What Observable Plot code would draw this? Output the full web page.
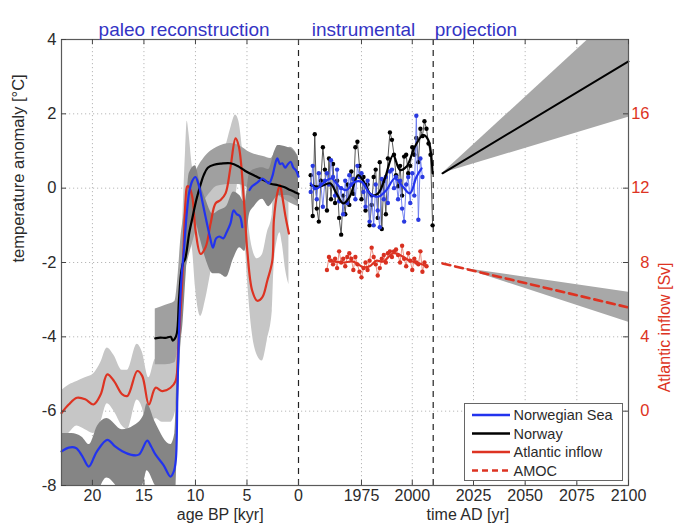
<!DOCTYPE html>
<html><head><meta charset="utf-8">
<script src="https://cdn.jsdelivr.net/npm/d3@7"></script>
<script src="https://cdn.jsdelivr.net/npm/@observablehq/plot@0.6"></script>
<style>
body{margin:0;background:#fff;font-family:"Liberation Sans",Arial,sans-serif}
#wrap{position:relative;width:674px;height:530px}
#legend{position:absolute;left:464px;top:403px}
</style>
</head><body><div id="wrap"></div>
<script>
// ---------- DATA ----------
// Paleo (age BP, kyr) — Norwegian Sea (blue)
const nsAge = [23,22.3,21.6,21.0,20.35,19.6,18.56,17.8,17.1,16.3,15.5,14.68,14.3,13.87,13.1,12.42,12.1,11.9,11.75,11.55,11.35,11.1,10.85,10.6,10.3,10.0,9.7,9.3,9.0,8.6,8.3,8.0,7.7,7.3,7.0,6.6,6.3,6.0,5.7,5.46,5.1,4.75,4.5,4.0,3.5,3.2,2.87,2.55,2.3,2.06,1.8,1.57,1.3,1.09,0.77,0.5,0.28,0.0];
const nsTemp = [-7.08,-6.98,-6.99,-7.2,-7.49,-7.1,-6.77,-6.95,-7.08,-7.17,-7.17,-6.79,-6.95,-7.17,-7.45,-7.76,-7.62,-7.3,-5.5,-3.5,-2.4,-1.6,-0.7,-0.1,0.2,0.3,0.1,-0.4,-0.8,-1.3,-1.6,-1.35,-1.3,-1.35,-1.2,-0.95,-0.6,-0.7,-0.75,-1.05,NaN,-0.05,0.05,0.15,0.26,0.2,0.13,0.31,0.6,0.8,0.65,0.67,0.55,0.62,0.71,0.55,0.49,0.31];
const nsBandAge = [23,22,21,20.3,19.5,18.6,17.1,16,15,14.7,13.9,12.4,12,11.75,11.5,11.2,10.9,10.6,10,9.6,9,8.3,7.7,7,6.3,5.7,5.2,4.75,4.3,3.5,2.9,2.3,2,1.1,0.3,0];
const nsBandLo = [-8.6,-8.3,-8.2,-8.6,-8.2,-7.8,-8.2,-8.4,-7.9,-7.6,-8.0,-8.6,-8.6,-6.8,-4.6,-3.6,-2.3,-1.2,-0.9,-1.3,-1.9,-2.3,-2.3,-2.4,-1.9,-1.6,-1.7,-0.7,-0.5,-0.3,-0.5,-0.3,-0.2,-0.2,-0.3,-0.4];
const nsBandHi = [-6.6,-6.6,-6.7,-6.9,-6.4,-6.2,-6.5,-6.4,-6.1,-5.8,-6.3,-6.9,-6.6,-4.6,-2.6,-2.0,-0.6,0.4,0.6,0.2,-0.3,-0.7,-0.6,-0.5,-0.1,-0.2,-0.4,0.4,0.5,0.55,0.5,1.0,1.15,1.1,0.95,0.8];

// Paleo — Norway (black)
const nwAge = [13.9,13.4,12.9,12.4,12.2,12.0,11.8,11.6,11.4,11.2,11.0,10.6,10.3,9.9,9.5,9.2,8.8,8.2,7.5,6.6,5.8,5.2,4.6,4.0,3.4,2.7,2.0,1.4,0.8,0.4,0.0];
const nwTemp = [-4.04,-4.02,-4.03,-4.0,-4.1,-4.05,-3.9,-3.0,-2.3,-2.0,-1.9,-1.2,-0.8,-0.3,0.1,0.35,0.55,0.63,0.66,0.67,0.58,0.47,0.38,0.3,0.22,0.12,0.08,0.03,-0.05,-0.1,-0.15];
const nwBandAge = [13.9,12.9,12.0,11.7,11.4,11.1,10.6,10.0,9.2,8.5,7.9,6.6,5.8,4.65,3.4,2.7,2.0,1.4,0.8,0.0];
const nwBandLo = [-4.75,-4.75,-4.7,-4.2,-2.9,-2.4,-1.8,-1.2,-0.4,-0.1,0.05,0.1,0.1,0.0,0.0,-0.1,-0.2,-0.3,-0.4,-0.5];
const nwBandHi = [-3.25,-3.15,-3.05,-2.4,-1.3,-0.7,-0.2,0.4,0.8,1.0,1.1,1.2,1.15,0.95,0.85,0.8,1.05,1.0,1.1,0.85];

// Paleo — Atlantic inflow (red)
const aiAge = [23,22.3,21.5,20.7,19.9,19.2,18.56,17.9,17.1,16.6,15.65,15.17,14.52,13.87,13.22,12.42,11.93,11.67,11.45,11.28,11.1,10.96,10.8,10.64,10.31,9.99,9.5,9.02,8.53,8.05,7.56,7.08,6.59,6.11,5.79,5.3,4.97,4.49,4.0,3.52,3.03,2.54,2.39,2.06,1.8,1.57,1.25,0.93];
const aiTemp = [-6.05,-5.82,-5.64,-5.68,-5.82,-5.55,-5.01,-5.19,-5.55,-5.59,-4.92,-5.05,-5.82,-5.37,-5.46,-5.37,-5.19,-4.29,-3.3,-2.49,-1.2,-0.32,0.05,0.04,-0.23,-1.14,-1.77,-1.59,-0.95,-0.41,-0.32,-0.14,0.58,1.34,1.12,-0.32,-1.68,-2.76,-3.03,-2.94,-2.49,-1.95,-0.86,-0.14,0.08,-0.23,-0.78,-1.22];
const aiBandAge = [23,22.3,21.5,20.7,19.9,19.2,18.56,17.9,17.1,16.6,15.65,15.17,14.52,13.87,13.22,12.42,11.93,11.67,11.28,10.96,10.8,10.64,10.31,9.99,9.5,9.02,8.53,8.05,7.56,7.08,6.59,6.11,5.79,5.3,4.97,4.49,4.0,3.52,3.03,2.54,2.39,2.06,1.8,1.57,1.25,0.93];
const aiBandLo = [-6.8,-6.6,-6.4,-6.5,-6.6,-6.3,-5.8,-6.0,-6.4,-6.5,-5.7,-5.9,-6.7,-6.2,-6.3,-6.3,-6.0,-5.2,-3.6,-1.5,-1.2,-1.3,-1.6,-2.7,-3.45,-3.0,-2.3,-1.6,-1.4,-1.2,-0.5,-0.3,0.3,-0.9,-2.4,-3.9,-4.5,-4.65,-4.1,-3.3,-2.2,-1.4,-1.2,-1.5,-2.2,-2.6];
const aiBandHi = [-5.45,-5.3,-5.2,-5.1,-5.0,-4.7,-4.3,-4.5,-4.9,-4.9,-4.2,-4.4,-5.1,-4.6,-4.7,-4.6,-4.4,-3.4,-1.2,1.0,1.8,1.5,0.6,0.2,-0.4,-0.2,0.3,0.7,0.8,1.1,1.6,1.97,1.8,0.6,-0.6,-1.6,-1.9,-1.8,-1.2,-0.7,0.3,0.9,1.1,0.8,0.3,-0.1];

// Instrumental (year AD)
const nwYearStart = 1950;
const nwObs = [0.35,-0.75,1.45,-0.55,-0.9,0.2,1.1,0.5,-0.6,0.8,-0.3,0.65,-0.4,0.2,-0.8,-1.25,-0.2,-0.7,0.1,-0.45,0.45,-0.15,1.1,1.25,0.6,-0.3,0.3,-0.6,0.1,-1.0,-0.45,0.3,0.5,-0.8,0.7,-1.1,0.2,-0.7,0.8,1.5,1.3,0.9,0.35,0.05,0.6,-0.2,0.85,0.9,0.4,0.6,1.1,0.9,1.35,0.7,1.6,1.4,1.8,1.6,1.2,0.9,-1.0];
const nwSmoothYear = [1950,1954.5,1959.5,1962.7,1966,1969.2,1973.4,1976.6,1979.9,1983.2,1986.5,1990.6,1993.9,1997.2,2001.3,2005.4,2007.8,2010];
const nwSmooth = [0.08,0.04,0.13,-0.14,-0.41,-0.23,0.35,0.13,-0.19,-0.14,0.26,0.89,0.49,0.58,1.12,1.43,1.3,0.4];

const nsYearStart = 1950;
const nsObs = [-0.1,0.6,0.0,-0.3,0.4,0.1,-0.5,0.2,0.4,0.1,0.75,0.3,-0.2,0.5,-0.35,0.0,-0.7,0.2,-0.4,0.35,0.1,0.25,-0.3,0.6,0.3,0.4,-0.1,-0.5,0.2,-0.9,-0.2,-1.0,0.1,-0.6,-1.05,0.25,-0.3,0.3,-0.4,0.45,0.5,0.0,0.3,-0.3,0.2,-0.55,-0.9,0.1,0.3,-0.4,0.4,-0.2,1.95,-0.85,0.8,0.3];
const nsSmoothYear = [1950,1952.8,1956.9,1960.2,1964.3,1967.6,1971.7,1975,1979.1,1983.2,1987.3,1991.4,1995.5,1998.8,2002.1,2004.6];
const nsSmooth = [0.13,-0.01,0.17,0.26,0.03,-0.05,0.17,0.17,-0.14,-0.23,-0.05,0.26,0.03,-0.14,0.31,0.53];

const aiYearStart = 1958; // Sv
const aiObs = [7.6,8.3,8.1,7.9,8.2,7.7,8.6,8.0,8.2,7.8,8.3,8.5,8.2,7.6,8.3,7.9,7.5,7.2,7.7,8.0,7.6,8.1,8.8,8.3,7.9,7.3,7.7,8.2,8.4,8.0,8.5,8.6,8.3,8.6,8.7,8.4,8.0,8.9,8.2,7.8,8.5,8.1,7.6,8.2,8.0,7.9,8.6,7.5,8.0,7.8];
const aiSmoothYear = [1959,1962,1966,1970.9,1975.8,1979,1982.4,1985.6,1990.6,1993.9,1998.8,2003.7,2007];
const aiSmooth = [8.1,8.05,8.0,8.05,7.75,7.8,8.1,8.05,8.5,8.4,8.1,7.95,7.8];

// Projection
const projYear = [2010, 2100];
const nwProj = [0.40, 3.41];
const nwProjLo = [0.40, 1.91];
const nwProjHi = [0.40, 5.0];
const amocYear = [2010, 2100];
const amoc = [7.95, 5.58];          // Sv
const amocBandYear = [2020, 2100];
const amocLo = [7.69, 4.78];
const amocHi = [7.69, 6.4];

// Ticks and labels
const xTickPaleo = [20, 15, 10, 5, 0];
const xTickInstr = [1975, 2000];
const xTickProj = [2025, 2050, 2075, 2100];
const yTicks = [-8, -6, -4, -2, 0, 2, 4];
const svTicks = [0, 4, 8, 12, 16];
const sectionTitles = ["paleo reconstruction", "instrumental", "projection"];
const legendItems = ["Norwegian Sea", "Norway", "Atlantic inflow", "AMOC"];

// ---------- COMPOSITE X (three panels on one axis) ----------
const seg = {paleo: [23, 0, 0, 237], instr: [1944, 2010.3, 237, 371.7], proj: [2005.5, 2100, 371.7, 567]};
const U = (s, v) => { const [a, b, u0, u1] = seg[s]; return u0 + (v - a) / (b - a) * (u1 - u0); };
const svT = sv => (sv - 12) / 2;
const pts = (s, xs, ys, f = d => d) => xs.map((x, i) => ({x: U(s, x), y: f(ys[i])}));
const band = (s, xs, lo, hi, f = d => d) => xs.map((x, i) => ({x: U(s, x), y1: f(lo[i]), y2: f(hi[i])}));
const annual = (s, start, ys, f = d => d) => ys.map((y, i) => ({x: U(s, start + i), y: f(y)}));

const RED = "#dd3322", BLUE = "#2233ee", TXT = "#2b2b2b";

const nsP = pts("paleo", nsAge, nsTemp), nwP = pts("paleo", nwAge, nwTemp), aiP = pts("paleo", aiAge, aiTemp);
const nsB = band("paleo", nsBandAge, nsBandLo, nsBandHi);
const nwB = band("paleo", nwBandAge, nwBandLo, nwBandHi);
const aiB = band("paleo", aiBandAge, aiBandLo, aiBandHi);
const nwO = annual("instr", nwYearStart, nwObs), nsO = annual("instr", nsYearStart, nsObs), aiO = annual("instr", aiYearStart, aiObs, svT);
const nwS = pts("instr", nwSmoothYear, nwSmooth), nsS = pts("instr", nsSmoothYear, nsSmooth), aiS = pts("instr", aiSmoothYear, aiSmooth, svT);
const nwPr = pts("proj", projYear, nwProj), nwPrB = band("proj", projYear, nwProjLo, nwProjHi);
const amP = pts("proj", amocYear, amoc, svT), amB = band("proj", amocBandYear, amocLo, amocHi, svT);

const xt = [
  ...xTickPaleo.map(v => ({x: U("paleo", v), t: String(v)})),
  ...xTickInstr.map(v => ({x: U("instr", v), t: String(v)})),
  ...xTickProj.map(v => ({x: U("proj", v), t: String(v)}))
];
const gridX = xt.filter(d => d.t !== "0" && d.t !== "2100").map(d => d.x);
const dividers = [U("paleo", 0), U("instr", 2010.3)];
const titles = [
  {x: U("paleo", 11.1), t: sectionTitles[0]},
  {x: U("instr", 1976), t: sectionTitles[1]},
  {x: U("proj", 2026.2), t: sectionTitles[2]}
];
const axisLabels = [
  {x: U("paleo", 7.6), t: "age BP [kyr]"},
  {x: U("proj", 2022.3), t: "time AD [yr]"}
];

const chart = Plot.plot({
  width: 674, height: 530,
  marginLeft: 61, marginRight: 46, marginTop: 39, marginBottom: 45,
  style: {fontFamily: "Liberation Sans, Arial, sans-serif", background: "white", overflow: "visible"},
  x: {domain: [0, 567], axis: null},
  y: {domain: [-8, 4], axis: null},
  marks: [
    // grid
    Plot.ruleY([-6, -4, -2, 0, 2], {stroke: "#b8b8b8", strokeDasharray: "1.2,2.8"}),
    Plot.ruleX(gridX, {stroke: "#b8b8b8", strokeDasharray: "1.2,2.8"}),
    // paleo uncertainty bands
    Plot.areaY(aiB, {x: "x", y1: "y1", y2: "y2", fill: "#c6c6c6", curve: "monotone-x", clip: true}),
    Plot.areaY(nwB, {x: "x", y1: "y1", y2: "y2", fill: "#a0a0a0", curve: "monotone-x", clip: true}),
    Plot.areaY(nsB, {x: "x", y1: "y1", y2: "y2", fill: "#858585", curve: "monotone-x", clip: true}),
    // projection bands
    Plot.areaY(nwPrB, {x: "x", y1: "y1", y2: "y2", fill: "#a8a8a8", clip: true}),
    Plot.areaY(amB, {x: "x", y1: "y1", y2: "y2", fill: "#a8a8a8", clip: true}),
    // dividers
    Plot.ruleX(dividers, {stroke: "#222", strokeWidth: 1.2, strokeDasharray: "6,5"}),
    // paleo lines
    Plot.line(aiP, {x: "x", y: "y", stroke: RED, strokeWidth: 2.2, curve: "catmull-rom"}),
    Plot.line(nwP, {x: "x", y: "y", stroke: "black", strokeWidth: 2.2, curve: "catmull-rom"}),
    Plot.line(nsP, {x: "x", y: "y", stroke: BLUE, strokeWidth: 2.2, curve: "catmull-rom"}),
    // instrumental
    Plot.line(nwO, {x: "x", y: "y", stroke: "#444", strokeWidth: 0.9}),
    Plot.dot(nwO, {x: "x", y: "y", r: 2.2, fill: "black", stroke: null}),
    Plot.line(nsO, {x: "x", y: "y", stroke: "#6677ee", strokeWidth: 0.9}),
    Plot.dot(nsO, {x: "x", y: "y", r: 2.2, fill: "#2a3ae0", stroke: null}),
    Plot.line(aiO, {x: "x", y: "y", stroke: "#e88070", strokeWidth: 0.9}),
    Plot.dot(aiO, {x: "x", y: "y", r: 2.2, fill: "#d83020", stroke: null}),
    Plot.line(nwS, {x: "x", y: "y", stroke: "black", strokeWidth: 2.2, curve: "catmull-rom"}),
    Plot.line(nsS, {x: "x", y: "y", stroke: BLUE, strokeWidth: 2.2, curve: "catmull-rom"}),
    Plot.line(aiS, {x: "x", y: "y", stroke: RED, strokeWidth: 2.2, curve: "catmull-rom"}),
    // projection lines
    Plot.line(nwPr, {x: "x", y: "y", stroke: "black", strokeWidth: 2}),
    Plot.line(amP, {x: "x", y: "y", stroke: RED, strokeWidth: 2.6, strokeDasharray: "8,5"}),
    // frame + inward ticks
    Plot.frame({stroke: "#5a5a5a", strokeWidth: 1.2}),
    Plot.ruleX(xt, {x: "x", y1: -8, y2: -7.86, stroke: "#444"}),
    Plot.ruleX(xt, {x: "x", y1: 4, y2: 3.86, stroke: "#444"}),
    Plot.ruleY(yTicks, {y: d => d, x1: 0, x2: 5, stroke: "#444"}),
    Plot.ruleY(svTicks, {y: d => svT(d), x1: 562, x2: 567, stroke: "#444"}),
    // tick labels
    Plot.text(xt, {x: "x", text: "t", frameAnchor: "bottom", dy: 15.5, fontSize: 16, fill: TXT}),
    Plot.text(yTicks, {y: d => d, text: d => String(d), frameAnchor: "left", dx: -5, textAnchor: "end", fontSize: 16.5, fill: TXT}),
    Plot.text(svTicks, {y: d => svT(d), text: d => String(d), frameAnchor: "right", dx: 21, textAnchor: "end", fontSize: 16.5, fill: RED}),
    // titles & axis labels
    Plot.text(titles, {x: "x", text: "t", frameAnchor: "top", dy: -17, fontSize: 19, fill: "#3434c4"}),
    Plot.text(axisLabels, {x: "x", text: "t", frameAnchor: "bottom", dy: 34.5, fontSize: 16, fill: TXT}),
    Plot.text(["temperature anomaly [°C]"], {frameAnchor: "left", dx: -43, rotate: -90, fontSize: 16.5, fill: TXT}),
    Plot.text(["Atlantic inflow [Sv]"], {frameAnchor: "right", dx: 36, rotate: -90, fontSize: 16, fill: RED})
  ]
});
const wrap = document.getElementById("wrap");
wrap.appendChild(chart);

// legend (inside the axes, lower right)
const legendStyles = [
  {stroke: BLUE, dash: null}, {stroke: "black", dash: null},
  {stroke: RED, dash: null}, {stroke: RED, dash: "6,4"}
];
const ns = "http://www.w3.org/2000/svg";
const lg = document.createElementNS(ns, "svg");
lg.setAttribute("id", "legend"); lg.setAttribute("width", 159); lg.setAttribute("height", 78);
lg.style.fontFamily = "Liberation Sans, Arial, sans-serif";
const rect = document.createElementNS(ns, "rect");
Object.entries({x: 0.5, y: 0.5, width: 158, height: 77, fill: "white", stroke: "#666"}).forEach(([k, v]) => rect.setAttribute(k, v));
lg.appendChild(rect);
legendItems.forEach((name, i) => {
  const yy = 12 + i * 18.5;
  const ln = document.createElementNS(ns, "line");
  Object.entries({x1: 8, x2: 46, y1: yy, y2: yy, stroke: legendStyles[i].stroke, "stroke-width": 2.4}).forEach(([k, v]) => ln.setAttribute(k, v));
  if (legendStyles[i].dash) ln.setAttribute("stroke-dasharray", legendStyles[i].dash);
  lg.appendChild(ln);
  const tx = document.createElementNS(ns, "text");
  tx.setAttribute("x", 49.5); tx.setAttribute("y", yy); tx.setAttribute("dy", "0.35em");
  tx.setAttribute("font-size", 14.5); tx.setAttribute("fill", TXT);
  tx.textContent = name;
  lg.appendChild(tx);
});
wrap.appendChild(lg);
</script></body></html>
